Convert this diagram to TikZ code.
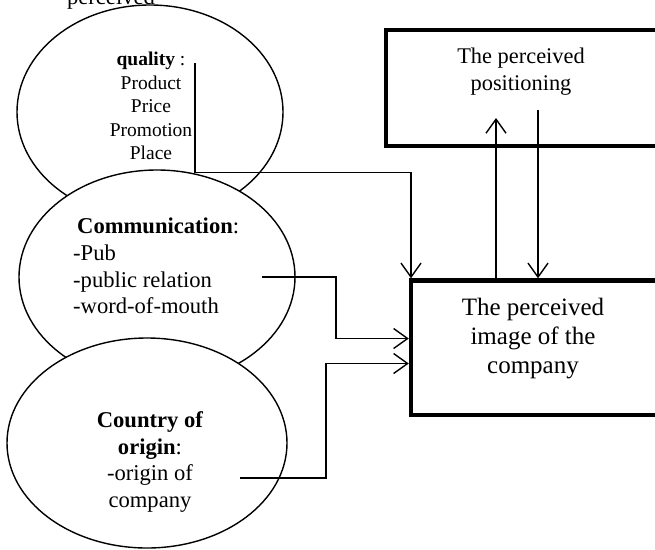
\documentclass[tikz,border=0pt]{standalone}
\usepackage{fontspec}
\setmainfont{Liberation Serif}
\usepackage{tikz}
\usetikzlibrary{calc, shapes.geometric, arrows.meta}

\begin{document}
\begin{tikzpicture}[x=1pt, y=-1pt]
	\tikzstyle{oval}=[ellipse, draw, fill=white, line width=1.4pt, inner sep=0pt, outer sep=0pt]
	\tikzstyle{frame}=[draw, fill=white, line width=4.3pt, inner sep=0pt, outer sep=0pt, anchor=north west]
	\tikzstyle{wire}=[line width=1.4pt]
	\tikzstyle{link}=[wire, shorten >=2.2pt, -{Straight Barb[length=14pt, width=20pt, line width=1.4pt]}]
	\tikzstyle{txt}=[inner sep=0pt, font=\fontsize{22.6}{26.6}\selectfont]
	\def\W{655};
	\def\H{549};

	\useasboundingbox (0,0) rectangle (\W,\H);
	\clip (0,0) rectangle (\W,\H);

	\begin{scope}
		\node [txt, anchor=base] (cut) at (111,4) {perceived};
		\node [oval, minimum width=266pt, minimum height=214pt] (qual) at (150,112) {};
		\node [oval, minimum width=276pt, minimum height=214pt] (comm) at (157,277) {};
		\node [oval, minimum width=280pt, minimum height=210pt] (orig) at (147,443) {};
	\end{scope}

	\begin{scope}
		\node [txt, align=center, font=\fontsize{19.5}{23.5}\selectfont] (qtext) at (151,106)
			{\textbf{quality} :\\Product\\Price\\Promotion\\Place};
		\node [txt, align=left, anchor=west] (ctext) at (73,266)
			{\hspace{4pt}\textbf{Communication}:\\-Pub\\-public relation\\-word-of-mouth};
		\node [txt, align=center] (otext) at (150,462)
			{\textbf{Country of}\\\textbf{origin}:\\-origin of\\company};
	\end{scope}

	\begin{scope}
		\node [frame, minimum width=330pt, minimum height=116pt] (pos) at (386,30) {};
		\node [txt, align=center, font=\fontsize{22.4}{27}\selectfont] (ptext) at (521,72)
			{The perceived\\positioning};
		\node [frame, minimum width=300pt, minimum height=134.5pt] (img) at (411,280.5) {};
		\node [txt, align=center, font=\fontsize{25}{29}\selectfont] (itext) at (533,339)
			{The perceived\\image of the\\company};
	\end{scope}

	\begin{scope}
		\coordinate (qs) at (195,63);
		\coordinate (cs) at (262,277);
		\coordinate (os) at (240,478);
		\draw [link] (qs) |- ($ (img.north west) + (0,-108) $) -- (img.north west);
		\draw [link] (cs) -- ++(74,0) |- ($ (img.north west) + (0,58) $);
		\draw [link] (os) -- ++(86,0) |- ($ (img.north west) + (0,83) $);
	\end{scope}

	\begin{scope}
		\draw [link, shorten >=0pt] ($ (img.north west) + (85,0) $) -- ($ (pos.south west) + (110,-28) $);
		\draw [link] ($ (pos.south west) + (152,-36) $) -- ($ (img.north west) + (127,0) $);
	\end{scope}
\end{tikzpicture}
\end{document}
